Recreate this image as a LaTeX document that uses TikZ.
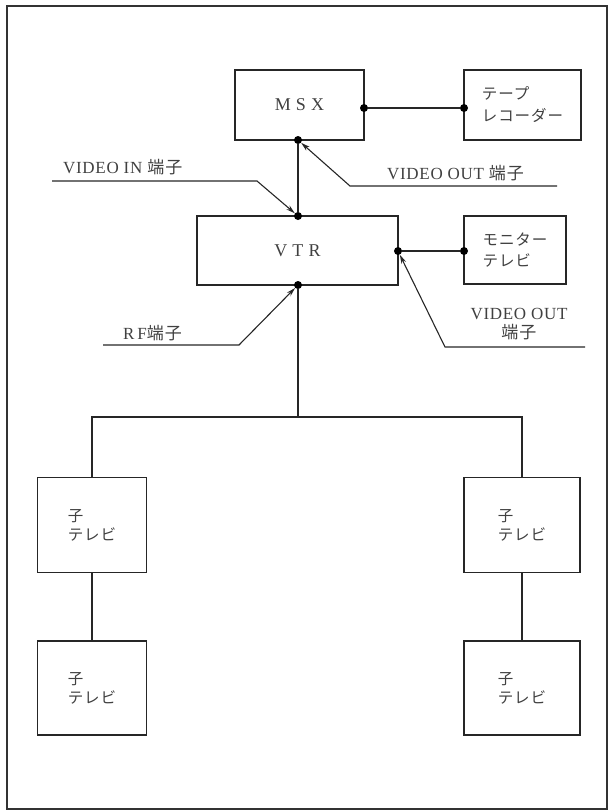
\documentclass[tikz,border=0pt]{standalone}
\usepackage{fontspec}
\setmainfont{Liberation Serif}[LetterSpace=4]
\newfontfamily\jp{Noto Sans CJK JP}[LetterSpace=6]
\usetikzlibrary{arrows.meta}
\begin{document}
\begin{tikzpicture}[x=1pt,y=-1pt,
  box/.style={draw=black!85, line width=1.3pt, inner sep=0pt, align=left, text=black!75},
  lat/.style={font=\fontsize{18}{20}\selectfont},
  jbox/.style={font=\jp\fontsize{15.5}{21}\selectfont},
  dot/.style={circle, fill=black, inner sep=0pt, minimum size=8pt},
  wire/.style={draw=black!85, line width=1.2pt},
  lead/.style={draw=black!85, line width=1.1pt, -{Stealth[length=9pt,width=5pt]}},
  lbl/.style={font=\fontsize{17}{19}\selectfont, text=black!75, inner sep=0pt}
]
\useasboundingbox (0,0) rectangle (613,811);
\draw[line width=2pt, black!80] (7,6) rectangle (607,809);

% boxes
\node[box, lat, minimum width=129pt, minimum height=70pt] (msx) at (299.5,105) {M S X};
\node[box, jbox, font=\jp\fontsize{15.5}{22}\selectfont, minimum width=117pt, minimum height=70pt] (tape) at (522.5,105) {テープ\\レコーダー};
\node[box, lat, minimum width=201pt, minimum height=69pt] (vtr) at (297.5,250.5) {V T R};
\node[box, jbox, minimum width=102pt, minimum height=68pt] (mon) at (515,250) {モニター\\テレビ};
\node[box, jbox, font=\jp\fontsize{15.5}{19}\selectfont, minimum width=109pt, minimum height=95pt] (c1) at (92,525) {子\\テレビ};
\node[box, jbox, font=\jp\fontsize{15.5}{19}\selectfont, minimum width=116pt, minimum height=95pt] (c2) at (522,525) {子\\テレビ};
\node[box, jbox, font=\jp\fontsize{15.5}{19}\selectfont, minimum width=109pt, minimum height=94pt] (c3) at (92,688) {子\\テレビ};
\node[box, jbox, font=\jp\fontsize{15.5}{19}\selectfont, minimum width=116pt, minimum height=94pt] (c4) at (522,688) {子\\テレビ};

% terminals
\node[dot] (msxR) at (364,108) {};
\node[dot] (tapeL) at (464,108) {};
\node[dot] (msxB) at (298,140) {};
\node[dot] (vtrT) at (298,216) {};
\node[dot] (vtrR) at (398,251) {};
\node[dot] (monL) at (464,251) {};
\node[dot] (vtrB) at (298,285) {};

% wires
\coordinate (bus) at (298,417);
\draw[wire] (msxR) -- (tapeL);
\draw[wire] (msxB) -- (vtrT);
\draw[wire] (vtrR) -- (monL);
\draw[wire] (vtrB) -- (bus);
\draw[wire] (c1.north) |- (bus) -| (c2.north);
\draw[wire] (c1.south) -- (c3.north);
\draw[wire] (c2.south) -- (c4.north);

% leaders and labels
\coordinate (inA) at (52,181);
\coordinate (inB) at (257,181);
\draw[lead] (inA) -- (inB) -- (vtrT);
\node[lbl, anchor=west] (inL) at (63,167) {VIDEO IN {\jp 端子}};

\coordinate (outA) at (557,186);
\coordinate (outB) at (350,186);
\draw[lead] (outA) -- (outB) -- (msxB);
\node[lbl, anchor=west] (outL) at (387,173) {VIDEO OUT {\jp 端子}};

\coordinate (rfA) at (103,345);
\coordinate (rfB) at (239,345);
\draw[lead] (rfA) -- (rfB) -- (vtrB);
\node[lbl, anchor=west] (rfL) at (123,333) {R\,F{\jp 端子}};

\coordinate (vo2A) at (585,347);
\coordinate (vo2B) at (445,347);
\draw[lead] (vo2A) -- (vo2B) -- (vtrR);
\node[lbl, align=center] (vo2L) at (519,324) {VIDEO OUT\\{\jp 端子}};
\end{tikzpicture}
\end{document}
